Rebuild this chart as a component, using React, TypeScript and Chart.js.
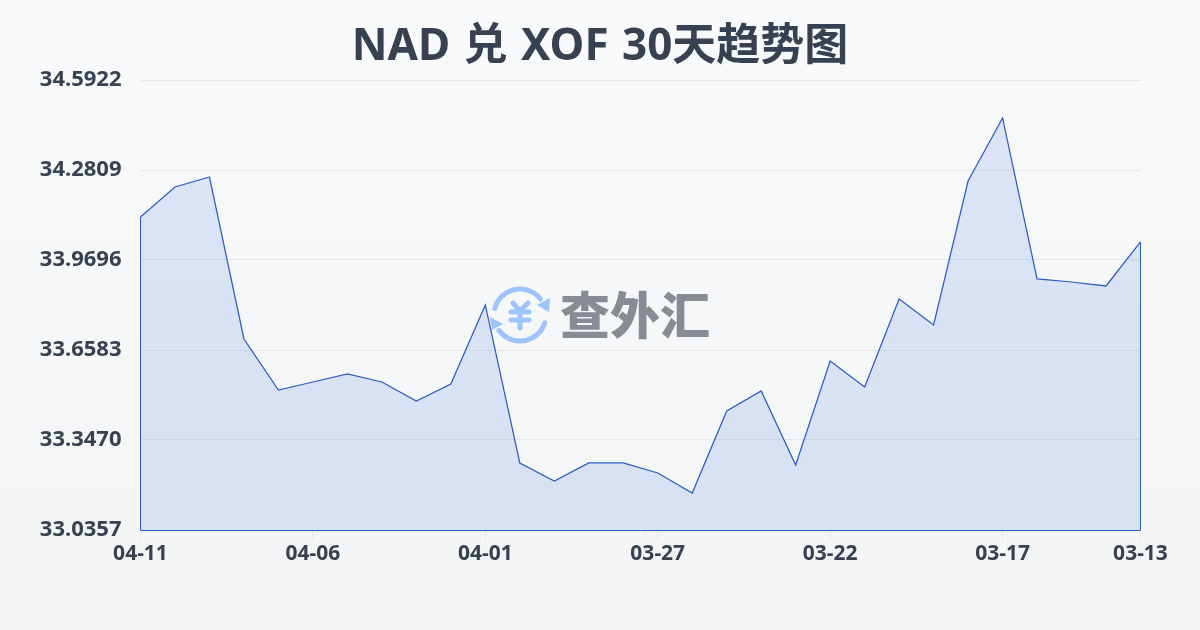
import React, { useEffect, useRef } from "react";
import { Chart, registerables } from "chart.js";

Chart.register(...registerables);

const titleText = "NAD 兑 XOF 30天趋势图";
const watermarkText = "查外汇";
const yMin = 33.0357;
const yMax = 34.5922;
const yStep = 0.3113;
const shownTicks = ["04-11", "04-06", "04-01", "03-27", "03-22", "03-17", "03-13"];
const categories = [
  "04-11", "04-10", "04-09", "04-08", "04-07", "04-06", "04-05", "04-04", "04-03", "04-02",
  "04-01", "03-31", "03-30", "03-29", "03-28", "03-27", "03-26", "03-25", "03-24", "03-23",
  "03-22", "03-21", "03-20", "03-19", "03-18", "03-17", "03-16", "03-15", "03-14", "03-13",
];
const rates = [
  34.1184, 34.2221, 34.2567, 33.6964, 33.52, 33.5476, 33.5753, 33.5476, 33.4819, 33.5407,
  33.814, 33.2675, 33.2052, 33.2675, 33.2675, 33.2329, 33.1637, 33.4473, 33.5165, 33.2605,
  33.6203, 33.5303, 33.8347, 33.7448, 34.2429, 34.4608, 33.9039, 33.8935, 33.8797, 34.0319,
];

const SANS = '"Noto Sans", "Noto Sans CJK SC", sans-serif';
const LINE = "#2b5cc5";
const TEXT = "#374151";

const decorations = {
  id: "decorations",
  beforeDatasetsDraw(chart: any) {
    const c = chart.ctx;
    c.save();
    const cx = 520;
    const cy = 315;
    const r = 26;
    c.strokeStyle = "#9fc3fb";
    c.fillStyle = "#9fc3fb";
    c.lineWidth = 5;
    c.lineCap = "round";
    c.beginPath();
    c.arc(cx, cy, r, Math.PI * 1.08, Math.PI * 1.79);
    c.stroke();
    c.beginPath();
    c.arc(cx, cy, r, Math.PI * 0.096, Math.PI * 0.8);
    c.stroke();
    c.beginPath();
    c.moveTo(550, 298);
    c.lineTo(549, 312);
    c.lineTo(537, 305);
    c.closePath();
    c.fill();
    c.beginPath();
    c.moveTo(490, 317);
    c.lineTo(503, 324);
    c.lineTo(492, 330);
    c.closePath();
    c.fill();
    c.lineWidth = 5;
    c.beginPath();
    c.moveTo(513, 303);
    c.lineTo(520, 311);
    c.lineTo(528, 303);
    c.moveTo(520, 312);
    c.lineTo(520, 328);
    c.moveTo(511, 312);
    c.lineTo(529, 312);
    c.moveTo(511, 320);
    c.lineTo(529, 320);
    c.stroke();
    c.fillStyle = "#868b94";
    c.font = '900 50px "Noto Sans CJK SC", sans-serif';
    c.textAlign = "left";
    c.textBaseline = "middle";
    c.fillText(watermarkText, 560, 315);
    c.restore();
  },
  afterDatasetsDraw(chart: any) {
    const c = chart.ctx;
    const x = chart.scales.x;
    const y = chart.scales.y;
    const last = rates.length - 1;
    c.save();
    c.strokeStyle = LINE;
    c.lineWidth = 1;
    c.beginPath();
    c.moveTo(x.getPixelForValue(0), y.getPixelForValue(rates[0]));
    c.lineTo(x.getPixelForValue(0), y.bottom + 0.5);
    c.lineTo(x.getPixelForValue(last), y.bottom + 0.5);
    c.lineTo(x.getPixelForValue(last), y.getPixelForValue(rates[last]));
    c.stroke();
    c.restore();
  },
  afterDraw(chart: any) {
    const c = chart.ctx;
    c.save();
    c.fillStyle = TEXT;
    c.font = 'bold 44px "Noto Sans", "Noto Sans CJK SC", sans-serif';
    c.textAlign = "center";
    c.textBaseline = "middle";
    c.wordSpacing = "2px";
    c.fillText(titleText, 600, 47);
    c.restore();
  },
};

export default function App() {
  const ref = useRef<HTMLCanvasElement>(null);
  useEffect(() => {
    document.body.style.margin = "0";
    const chart = new Chart(ref.current as HTMLCanvasElement, {
      type: "line",
      data: {
        labels: categories,
        datasets: [
          {
            data: rates,
            borderColor: LINE,
            borderWidth: 1.25,
            backgroundColor: "rgba(59,110,225,0.15)",
            fill: "start",
            tension: 0,
            pointRadius: 0,
          },
        ],
      },
      plugins: [decorations],
      options: {
        responsive: false,
        animation: false,
        layout: { padding: { left: 0, right: 59.5, top: 80, bottom: 0 } },
        plugins: {
          legend: { display: false },
          tooltip: { enabled: false },
          title: { display: false },
        },
        scales: {
          x: {
            afterFit(axis: any) {
              axis.height = 100;
            },
            border: { display: false },
            grid: { drawOnChartArea: false, color: "#e5e7eb", tickLength: 10 },
            ticks: {
              autoSkip: false,
              maxRotation: 0,
              color: TEXT,
              font: { family: SANS, size: 21, weight: "bold" },
              padding: 1,
              callback: (_v: any, i: number) =>
                shownTicks.includes(categories[i]) ? categories[i] : null,
            },
          },
          y: {
            min: yMin,
            max: yMax,
            afterBuildTicks(axis: any) {
              axis.ticks = Array.from({ length: 6 }, (_, i) => ({ value: yMin + i * yStep }));
            },
            border: { display: false },
            grid: { color: "#e5e7eb", drawTicks: false },
            afterFit(axis: any) {
              axis.width = 140.5;
            },
            ticks: {
              color: TEXT,
              font: { family: SANS, size: 22, weight: "bold" },
              padding: 19,
              callback: (v: any) => Number(v).toFixed(4),
            },
          },
        },
      },
    });
    return () => chart.destroy();
  }, []);
  return (
    <div
      style={{
        width: 1200,
        height: 630,
        background: "linear-gradient(180deg, #f9fafb 0%, #f3f4f6 100%)",
      }}
    >
      <canvas ref={ref} width={1200} height={630} style={{ display: "block" }} />
    </div>
  );
}
